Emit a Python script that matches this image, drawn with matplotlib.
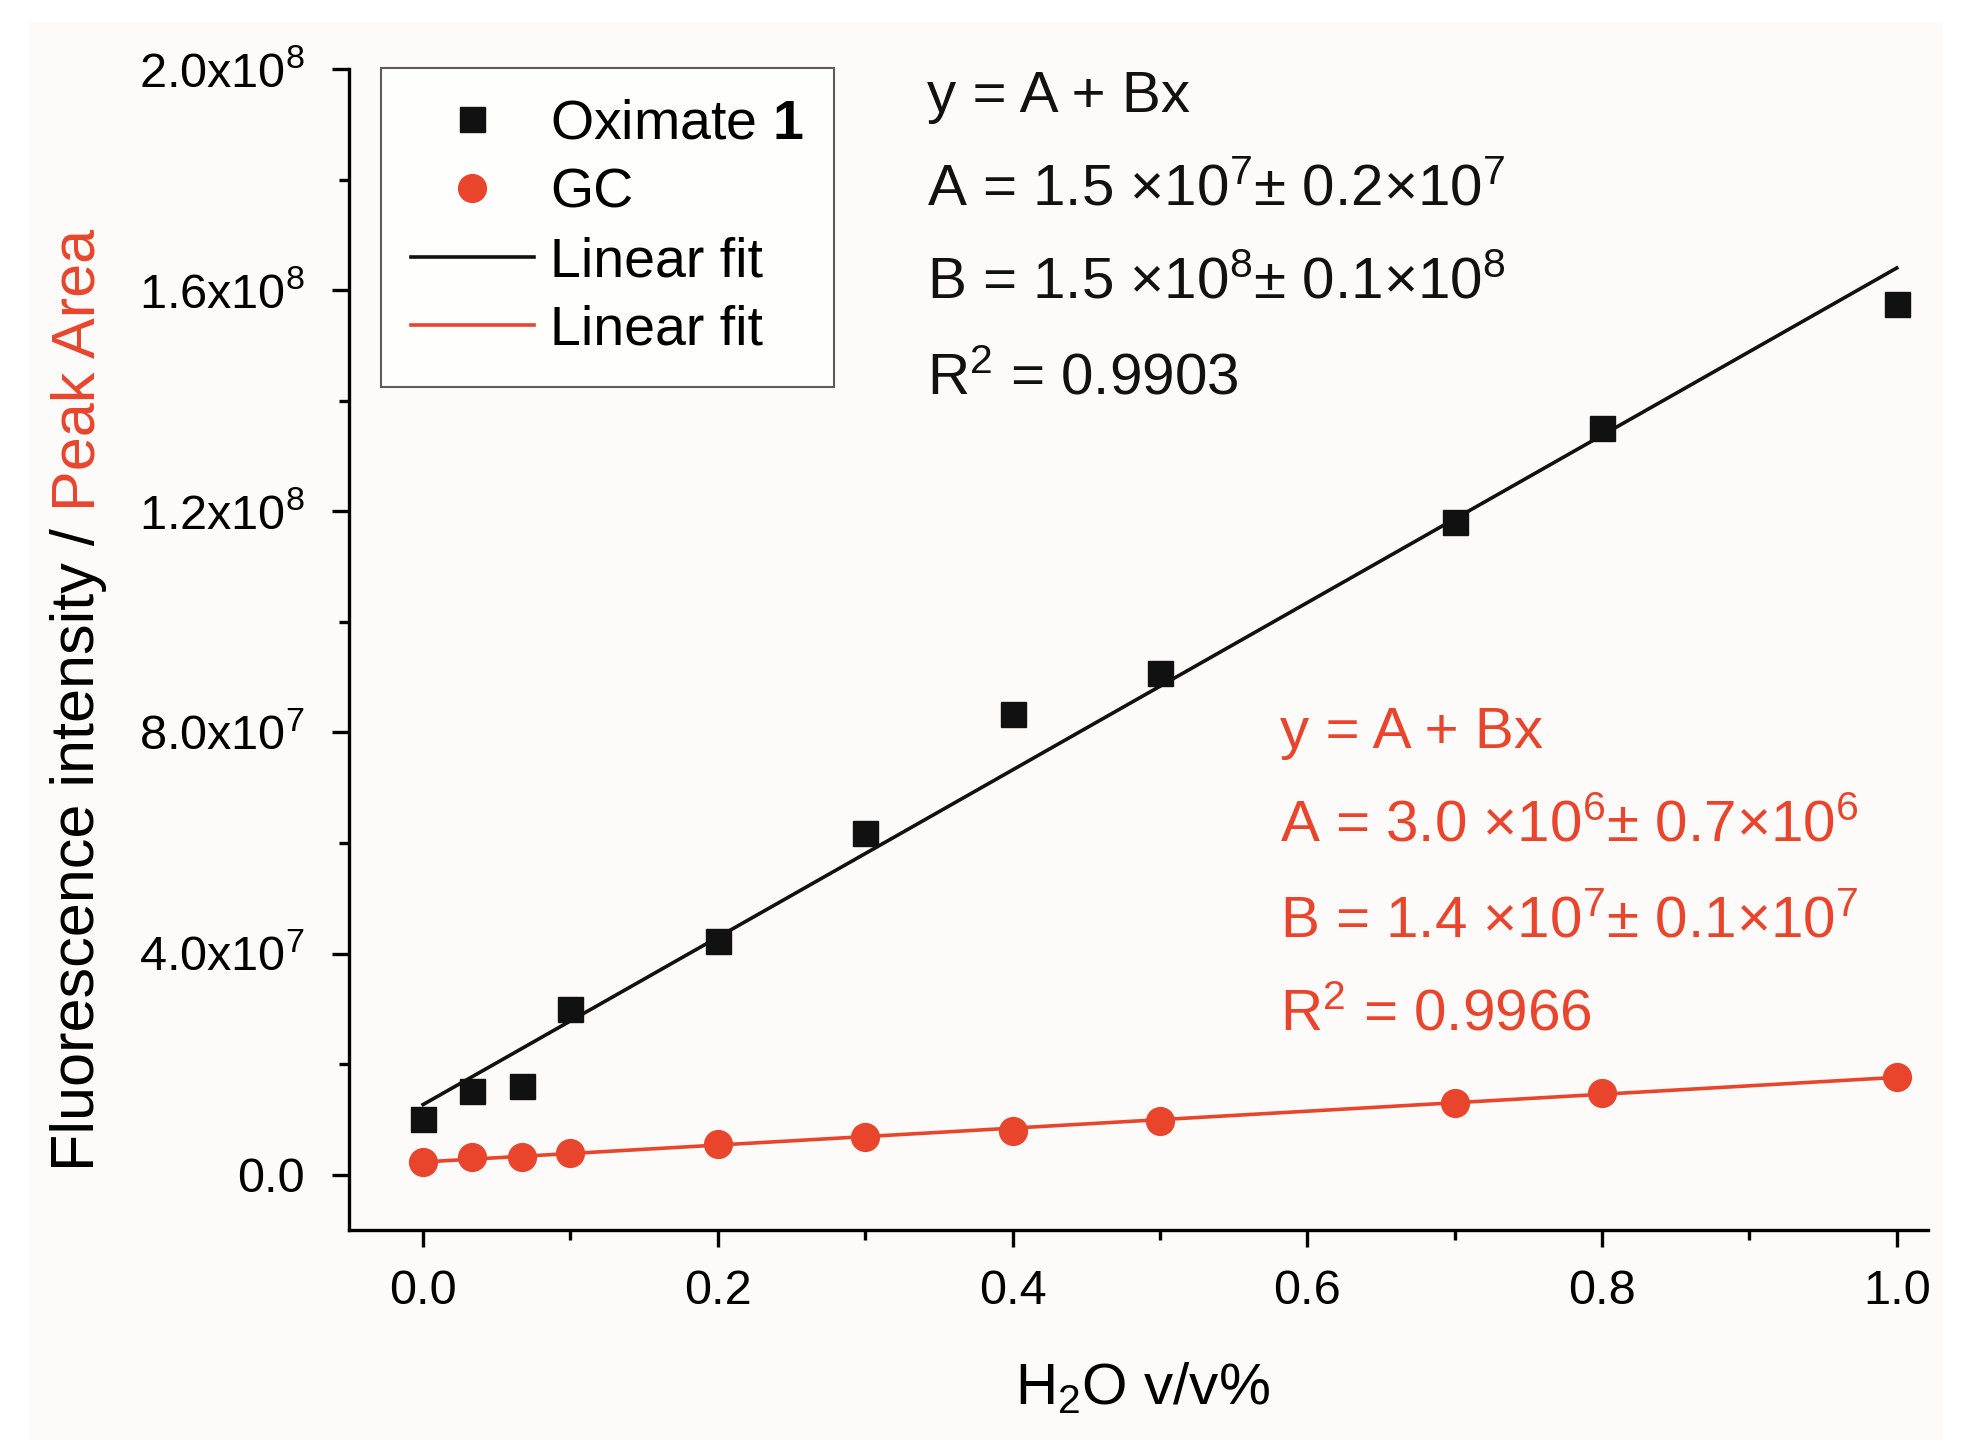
import numpy as np
import matplotlib
matplotlib.use("Agg")
import matplotlib.pyplot as plt
from matplotlib.patches import Rectangle
from matplotlib.ticker import MultipleLocator, FuncFormatter

plt.rcParams['font.family'] = ['Liberation Sans', 'DejaVu Sans']
plt.rcParams['mathtext.fontset'] = 'custom'
plt.rcParams['mathtext.rm'] = 'Liberation Sans'
plt.rcParams['mathtext.it'] = 'Liberation Sans:italic'
plt.rcParams['mathtext.bf'] = 'Liberation Sans:bold'

# data
water = [0.0, 0.033, 0.067, 0.1, 0.2, 0.3, 0.4, 0.5, 0.7, 0.8, 1.0]
oximate = [1.0e7, 1.52e7, 1.61e7, 3.0e7, 4.23e7, 6.18e7, 8.34e7, 9.07e7, 1.18e8, 1.35e8, 1.575e8]
gc = [2.3e6, 3.2e6, 3.2e6, 3.9e6, 5.5e6, 6.8e6, 8.0e6, 9.8e6, 1.3e7, 1.48e7, 1.77e7]

black_fit_text = ["y = A + Bx",
                  "A = 1.5 ×10$^{7}$± 0.2×10$^{7}$",
                  "B = 1.5 ×10$^{8}$± 0.1×10$^{8}$",
                  "R$^{2}$ = 0.9903"]
red_fit_text = ["y = A + Bx",
                "A = 3.0 ×10$^{6}$± 0.7×10$^{6}$",
                "B = 1.4 ×10$^{7}$± 0.1×10$^{7}$",
                "R$^{2}$ = 0.9966"]

red = '#e8452c'

fig = plt.figure(figsize=(19.63, 14.55), dpi=100)
fig.patches.append(Rectangle((0.015, 0.01), 0.975, 0.975, transform=fig.transFigure,
                             facecolor='#fcfbf9', edgecolor='none', zorder=-10))
ax = fig.add_axes([0.178, 0.1546, 0.804, 0.798])
ax.set_facecolor('none')

x = np.array(water)
k1 = np.polyfit(x, oximate, 1)
k2 = np.polyfit(x, gc, 1)
xf = np.array([0.0, 1.0])

ax.plot(water, oximate, 's', color='#111111', markersize=18, label='Oximate $\\mathbf{1}$', zorder=3)
ax.plot(water, gc, 'o', color=red, markersize=20, label='GC', zorder=3)
ax.plot(xf, np.polyval(k1, xf), '-', color='#111111', lw=2.6, label='Linear fit')
ax.plot(xf, np.polyval(k2, xf), '-', color=red, lw=2.6, label='Linear fit')

ax.set_xlim(-0.05, 1.021)
ax.set_ylim(-1e7, 2e8)
ax.spines['top'].set_visible(False)
ax.spines['right'].set_visible(False)
for s in ['left', 'bottom']:
    ax.spines[s].set_linewidth(2.4)
ax.spines['left'].set_bounds(-1e7, 2e8)

ax.xaxis.set_major_locator(MultipleLocator(0.2))
ax.xaxis.set_minor_locator(MultipleLocator(0.1))
ax.yaxis.set_major_locator(MultipleLocator(4e7))
ax.yaxis.set_minor_locator(MultipleLocator(2e7))
ax.tick_params(which='major', direction='out', length=12, width=2.4, labelsize=35)
ax.tick_params(axis='y', which='major', pad=20)
ax.tick_params(axis='x', which='major', pad=16)
ax.tick_params(which='minor', direction='out', length=7, width=2.4)
ax.xaxis.set_major_formatter(FuncFormatter(lambda v, p: '%.1f' % (0.0 if abs(v) < 1e-9 else v)))


def ylab(v, p):
    if abs(v) < 1:
        return '0.0'
    if v < 0:
        return ''
    e = int(np.floor(np.log10(v)))
    return '%.1fx10$^{%d}$' % (v / 10 ** e, e)


ax.yaxis.set_major_formatter(FuncFormatter(ylab))

leg = ax.legend(loc='upper left', bbox_to_anchor=(0.194, 0.953), bbox_transform=fig.transFigure,
                borderaxespad=0, fancybox=False, edgecolor='#333333', fontsize=40,
                handlelength=2.2, handletextpad=0.3, labelspacing=0.3, borderpad=0.55)
leg.get_frame().set_linewidth(1.5)

for i, t in enumerate(black_fit_text):
    fig.text(0.472, [0.933, 0.870, 0.805, 0.739][i], t, fontsize=42, color='#111111', va='center')
for i, t in enumerate(red_fit_text):
    fig.text(0.652, [0.496, 0.432, 0.367, 0.302][i], t, fontsize=42, color=red, va='center')

fig.text(0.582, 0.046, 'H$_{2}$O v/v%', fontsize=42, ha='center', va='center')

# two-colour y label
fig.canvas.draw()
r = fig.canvas.get_renderer()
t1 = fig.text(0.04, 0.195, 'Fluorescence intensity / ', rotation=90, fontsize=44,
              ha='center', va='bottom')
bb = t1.get_window_extent(r).transformed(fig.transFigure.inverted())
fig.text(0.04, bb.y1, 'Peak Area', rotation=90, fontsize=44, color=red,
         ha='center', va='bottom')

fig.savefig('out.png', dpi=100)
